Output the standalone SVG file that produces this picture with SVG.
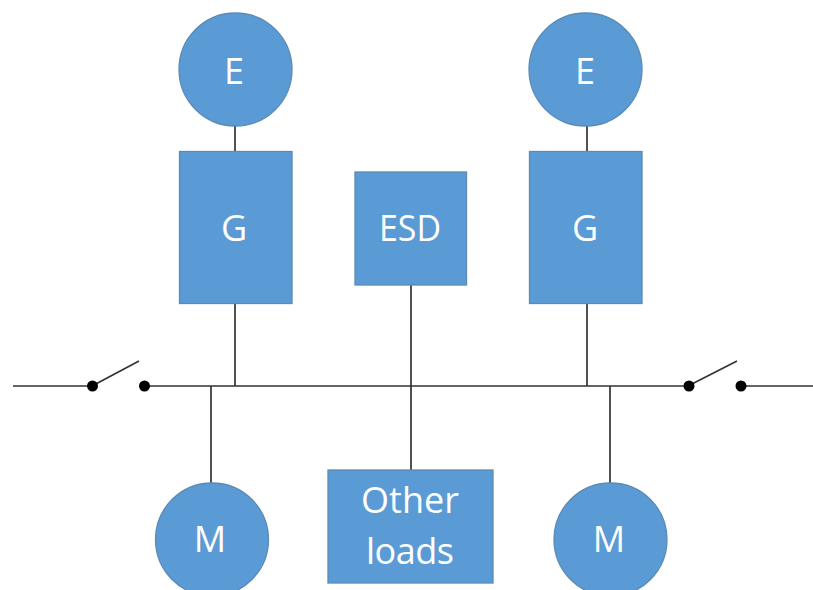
<svg xmlns="http://www.w3.org/2000/svg" width="813" height="590" viewBox="0 0 813 590">
<style>
.s{fill:#5b9bd5;stroke:#5a8ab5;stroke-width:1.3}
.t{fill:#fff;font-family:"Open Sans","Noto Sans",sans-serif;font-size:36px;text-anchor:middle}
.c{stroke:#333;stroke-width:1.7;fill:none}
.d{fill:#000}
</style>
<rect width="813" height="590" fill="#fff"/>
<g id="connectors">
<path class="c" d="M235 126V151M587 126V151M235 303V386M587 303V386M411 285V386M411 386V470M211 386V483M610 386V483"/>
<path class="c" d="M13 386H92M92 386L139 361M145 386H688M688 386L737 361M741 386H813"/>
<circle class="d" cx="92.500" cy="386" r="5.500"/>
<circle class="d" cx="144.500" cy="386" r="5.500"/>
<circle class="d" cx="689" cy="386" r="5.500"/>
<circle class="d" cx="741" cy="386" r="5.500"/>
</g>
<g id="e1"><circle class="s" cx="235.500" cy="69.500" r="56.500"/><text class="t" x="234" y="84">E</text></g>
<g id="g1"><rect class="s" x="179.500" y="151.500" width="112.500" height="152"/><text class="t" x="234" y="241">G</text></g>
<g id="esd"><rect class="s" x="355" y="172" width="111.500" height="113"/><text class="t" x="410" y="241" textLength="62" lengthAdjust="spacingAndGlyphs">ESD</text></g>
<g id="e2"><circle class="s" cx="585.500" cy="69.500" r="56.500"/><text class="t" x="585" y="84">E</text></g>
<g id="g2"><rect class="s" x="529.500" y="151.500" width="112.500" height="152"/><text class="t" x="585" y="241">G</text></g>
<g id="m1"><circle class="s" cx="212" cy="539.500" r="56.500"/><text class="t" x="210" y="552">M</text></g>
<g id="loads"><rect class="s" x="328" y="470" width="165" height="113"/><text class="t" x="410" y="513" textLength="98" lengthAdjust="spacing">Other</text><text class="t" x="410" y="564" textLength="88" lengthAdjust="spacing">loads</text></g>
<g id="m2"><circle class="s" cx="610.500" cy="539.500" r="56.500"/><text class="t" x="609" y="552">M</text></g>
</svg>
